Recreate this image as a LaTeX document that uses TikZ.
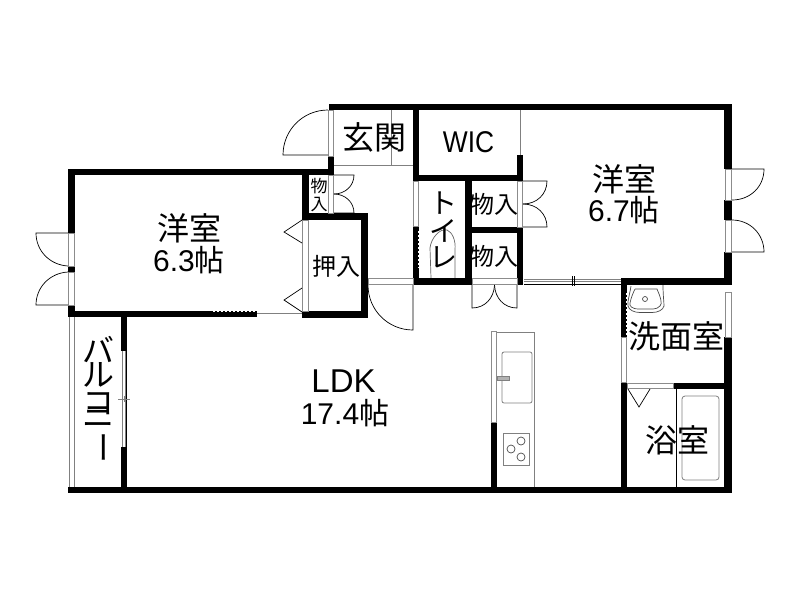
\documentclass[tikz,border=0pt]{standalone}
\usepackage{fontspec}
\setmainfont{Liberation Sans}
\newfontfamily\cjk{Noto Sans CJK JP}
\tikzset{
  wall/.style={fill=black,draw=none},
  win/.style={fill=white,draw=black!45,line width=0.8pt},
  thin/.style={draw=black,line width=0.7pt},
  graythin/.style={draw=black!50,line width=0.8pt},
  lab/.style={inner sep=0pt,font=\cjk,text=black},
  big/.style={lab,font=\cjk\fontsize{32}{32}\selectfont},
  mid/.style={lab,font=\cjk\fontsize{24}{24}\selectfont},
  tiny/.style={lab,font=\cjk\fontsize{17}{17}\selectfont},
  num/.style={inner sep=0pt,font=\fontsize{30}{30}\selectfont},
  stack/.style={lab,font=\cjk\fontsize{32}{24}\selectfont},
  stacksmall/.style={lab,font=\cjk\fontsize{28}{24}\selectfont},
}
\newcommand{\R}[4]{\fill[wall] (#1,#2) rectangle (#3,#4);}
\newcommand{\W}[4]{\path[win] (#1,#2) rectangle (#3,#4);}
\newcommand{\stacked}[1]{\parbox{40pt}{\centering\lineskiplimit=-100pt\relax #1}}
\begin{document}
\begin{tikzpicture}[x=1pt,y=-1pt]
\useasboundingbox[fill=white] (0,0) rectangle (800,600);
% thin interior lines
\draw[graythin] (334,165) -- (413,165);
\draw[graythin] (391,110) -- (391,165);
\draw[graythin] (520,110) -- (520,155);
\draw[graythin] (257,313.5) -- (302,313.5) ;
\draw[graythin] (69,317) -- (69,487) (74,317) -- (74,487);
\draw[thin] (676,389) -- (676,487);
% kitchen
\draw[graythin] (497,332) -- (534,332) -- (534,487);
\draw[graythin,rounded corners=2pt] (502,352) rectangle (532,403);
\path[fill=black!30,draw=black!50] (497,376) rectangle (509,380);
\draw[graythin] (503,433) rectangle (529,465);
\draw[thin,black!70] (521,441) circle (4) (511,449) circle (4) (521,457) circle (4);
% bath
\draw[graythin,rounded corners=3pt] (682,396) rectangle (719,480);
\draw[thin] (628,389) -- (639,407) -- (650,389);
% basin
\draw[thin,black!70] (635,289) -- (657,289) .. controls (660,296) and (663,304) .. (660,306) .. controls (658,308) and (656,309) .. (653,309) -- (639,309) .. controls (632,309) and (629,306) .. (630,303) .. controls (631,298) and (633,293) .. (635,289);
\draw[thin,black!70] (631,286) .. controls (630,293) and (627,303) .. (628,306) .. controls (629,310) and (634,312.5) .. (640,312.5) -- (652,312.5) .. controls (658,312.5) and (663,310) .. (664,306) .. controls (664,302) and (663,295) .. (663,285);
\draw[thin,black!70] (645,299) circle (2.5);
% toilet
\draw[thin,black!60] (431,278) -- (430,248) .. controls (431,238) and (440,228) .. (447,230) .. controls (452,232) and (456,240) .. (455,250) -- (455,278);
% walls
\R{329}{104}{732}{110}
\R{724}{104}{732}{169}
\R{724}{200}{732}{220}
\R{724}{252}{732}{285}
\R{724}{337}{732}{493}
\R{621}{278}{732}{285}
\R{621}{278}{627}{337}
\R{621}{382}{627}{493}
\R{673}{383}{732}{389}
\R{68}{487}{732}{493}
\R{491}{422}{497}{493}
\R{517}{155}{523}{181}
\R{517}{227}{523}{285}
\R{413}{175}{523}{181}
\R{413}{104}{419}{181}
\R{413}{226}{419}{285}
\R{413}{278}{472}{285}
\R{465}{181}{472}{285}
\R{465}{227}{523}{233}
\R{302}{213}{368}{220}
\R{361}{213}{368}{318}
\R{302}{311}{368}{318}
\R{302}{169}{309}{220}
\R{68}{169}{334}{175}
\R{328}{156}{334}{175}
\R{68}{169}{75}{233}
\R{68}{266}{75}{272}
\R{68}{305}{75}{317}
\R{68}{311}{257}{317}
\R{121}{317}{127}{351}
\R{121}{447}{127}{493}
% windows
\W{328.5}{110}{333.5}{156}
\W{328.5}{175}{333.5}{213}
\W{413.5}{181}{418.5}{226}
\W{517.5}{181}{522.5}{227}
\W{368}{278.5}{413}{284.5}
\W{472}{278.5}{517}{284.5}
\W{302.5}{220}{308.5}{311}
\W{68.5}{233}{74.5}{266}
\W{68.5}{272}{74.5}{305}
\W{725}{169}{731}{200}
\W{725}{220}{731}{252}
\W{725}{292}{731}{337}
\W{621.5}{337}{626.5}{382}
\W{627}{383.5}{673}{388.5}
\W{491.5}{331}{496.5}{422}
% sliding windows
\draw[graythin] (524,279) -- (621,279);
\draw[thin] (524,284) -- (621,284);
\draw[graythin] (524,281.5) -- (621,281.5);
\draw[thin] (572,276) -- (572,286) (574,276) -- (574,286);
\draw[graythin] (122,351) -- (122,447) (125,351) -- (125,447);
\draw[thin] (126.5,351) -- (126.5,447);
\draw[graythin] (118,399) -- (130,399) (124,396) -- (124,402);
% dotted fringes
\draw[white,line width=1.5pt,dash pattern=on 2pt off 2pt] (213,311.7) -- (257,311.7);
\draw[white,line width=1.5pt,dash pattern=on 2pt off 2pt] (418.3,231) -- (418.3,268);
\draw[white,line width=1.5pt,dash pattern=on 2pt off 2pt] (626.3,293) -- (626.3,337);
% door swings
\draw[thin] (328,155) -- (283,155) .. controls (283,130) and (303,110) .. (328,110);
\draw[thin] (334,175) -- (354,175) .. controls (354,186) and (345,194) .. (334,194);
\draw[thin] (334,213) -- (354,213) .. controls (354,202) and (345,194) .. (334,194);
\draw[thin] (413,285) -- (413,330) .. controls (388,330) and (368,310) .. (368,285);
\draw[thin] (472,285) -- (472,308) .. controls (485,308) and (494,298) .. (494.5,285);
\draw[thin] (517,285) -- (517,308) .. controls (504,308) and (495,298) .. (494.5,285);
\draw[thin] (523,181) -- (547,181) .. controls (547,194) and (537,204) .. (523,204);
\draw[thin] (523,227) -- (547,227) .. controls (547,214) and (537,204) .. (523,204);
\draw[thin] (732,169) -- (764,169) .. controls (764,187) and (750,200) .. (732,200);
\draw[thin] (732,252) -- (764,252) .. controls (764,234) and (750,220) .. (732,220);
\draw[thin] (68,233) -- (36,233) .. controls (36,251) and (50,265) .. (68,266);
\draw[thin] (68,305) -- (36,305) .. controls (36,287) and (50,273) .. (68,272);
\draw[thin] (302,220) -- (284,232) -- (302,243);
\draw[thin] (302,288) -- (284,300) -- (302,312);
% labels
\node[big] (n1) at (189,228) {洋室};
\node[num] (n2) at (189,260) {6.3{\cjk 帖}};
\node[big] (n3) at (624,179) {洋室};
\node[num] (n4) at (624,210) {6.7{\cjk 帖}};
\node[num,font=\fontsize{33}{33}\selectfont] (n5) at (343.5,381) {LDK};
\node[num] (n6) at (345,413) {17.4{\cjk 帖}};
\node[big] (n7) at (374,137) {玄関};
\node[num,font=\fontsize{30}{30}\selectfont,xscale=0.88] (n8) at (468.5,142) {WIC};
\node[mid] (n9) at (336,266) {押入};
\node[mid] (n10) at (494,204) {物入};
\node[mid] (n11) at (494,256) {物入};
\node[tiny] (n12) at (319,186) {物};
\node[tiny] (n13) at (319,205) {入};
\node[big] (n14) at (676,336) {洗面室};
\node[big] (n15) at (677,440) {浴室};
\node[stacksmall] (n16) at (443,230) {\stacked{ト\\[4pt]イ\\[2pt]レ}};
\node[stack] (n19) at (98,400) {\stacked{バ\\ル\\[4pt]コ\\[-11pt]ニ\\[3pt]\rotatebox[origin=c]{-90}{ー}}};
\end{tikzpicture}
\end{document}
